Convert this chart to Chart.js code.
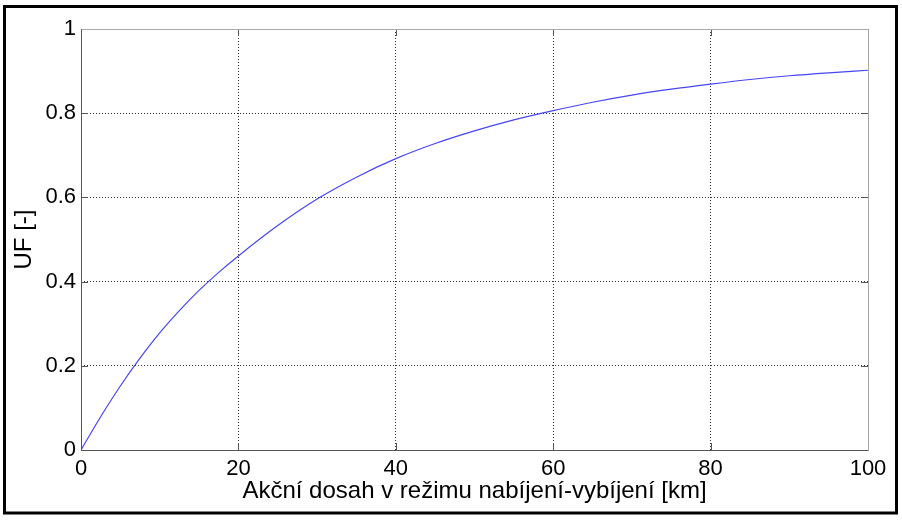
<!DOCTYPE html>
<html>
<head>
<meta charset="utf-8">
<script src="https://cdn.jsdelivr.net/npm/chart.js@4"></script>
<style>
  html, body { margin: 0; padding: 0; background: #fff; }
  #wrap { width: 902px; height: 520px; }
</style>
</head>
<body>
<div id="wrap"><canvas id="ufChart" width="902" height="520"></canvas></div>
<script>
// range in km and utility factor
const rangeKm = [0, 2.5, 5, 7.5, 10, 12.5, 15, 17.5, 20, 25, 30, 35, 40, 45, 50, 55, 60, 65, 70, 75, 80, 85, 90, 95, 100];
const ufValues = [0, 0.079, 0.152, 0.218, 0.278, 0.331, 0.379, 0.422, 0.461, 0.533, 0.596, 0.648, 0.692, 0.728, 0.758, 0.784, 0.806, 0.826, 0.843, 0.857, 0.869, 0.880, 0.889, 0.896, 0.902];
const xTicks = [0, 20, 40, 60, 80, 100];
const yTicks = [0, 0.2, 0.4, 0.6, 0.8, 1];
const xTitle = 'Akční dosah v režimu nabíjení-vybíjení [km]';
const yTitle = 'UF [-]';

const points = rangeKm.map((x, i) => ({ x: x, y: ufValues[i] }));

// matlab-ish axes box, inward ticks and outer frame
const boxPlugin = {
  id: 'box',
  beforeDraw(chart) {
    const c = chart.ctx;
    c.save();
    c.fillStyle = '#fff';
    c.fillRect(0, 0, chart.width, chart.height);
    c.restore();
  },
  afterDatasetsDraw(chart) {
    const c = chart.ctx;
    const a = chart.chartArea;
    const xs = chart.scales.x, ys = chart.scales.y;
    c.save();
    c.lineWidth = 1;
    c.strokeStyle = '#555';
    c.beginPath();
    yTicks.forEach(v => {
      const py = Math.round(ys.getPixelForValue(v)) + 0.5;
      c.moveTo(a.left, py); c.lineTo(a.left + 7, py);
      c.moveTo(a.right, py); c.lineTo(a.right - 7, py);
    });
    xTicks.forEach(v => {
      const px = Math.round(xs.getPixelForValue(v)) + 0.5;
      c.moveTo(px, a.bottom); c.lineTo(px, a.bottom - 7);
      c.moveTo(px, a.top); c.lineTo(px, a.top + 7);
    });
    c.stroke();
    c.strokeStyle = '#aaa';
    c.beginPath();
    c.moveTo(Math.round(a.left) + 0.5, Math.round(a.top) + 0.5);
    c.lineTo(Math.round(a.right) + 0.5, Math.round(a.top) + 0.5);
    c.lineTo(Math.round(a.right) + 0.5, Math.round(a.bottom) + 0.5);
    c.stroke();
    c.strokeStyle = '#555';
    c.beginPath();
    c.moveTo(Math.round(a.left) + 0.5, Math.round(a.top) + 0.5);
    c.lineTo(Math.round(a.left) + 0.5, Math.round(a.bottom) + 0.5);
    c.lineTo(Math.round(a.right) + 0.5, Math.round(a.bottom) + 0.5);
    c.stroke();
    // outer black frame
    c.lineWidth = 3;
    c.strokeStyle = '#000';
    c.strokeRect(4.5, 6.5, 892, 506.5);
    c.restore();
  }
};

const ctx = document.getElementById('ufChart').getContext('2d');
const ufChart = new Chart(ctx, {
  type: 'line',
  data: {
    datasets: [{
      label: 'UF',
      data: points,
      borderColor: 'rgb(70, 70, 245)',
      borderWidth: 1.2,
      pointRadius: 0,
      fill: false,
      cubicInterpolationMode: 'monotone',
    }],
  },
  options: {
    responsive: false,
    animation: false,
    devicePixelRatio: 1,
    layout: { padding: { left: 0, right: 34, top: 29, bottom: 0 } },
    plugins: {
      legend: { display: false },
      tooltip: { enabled: false },
    },
    scales: {
      x: {
        type: 'linear',
        min: 0,
        max: 100,
        afterBuildTicks: (scale) => { scale.ticks = xTicks.map(v => ({ value: v })); },
        afterFit: (scale) => { scale.height = 70; },
        ticks: {
          color: '#000',
          padding: 6,
          maxRotation: 0,
          font: { family: 'Liberation Sans', size: 22 },
          callback: (v) => String(v),
        },
        grid: { color: '#333', drawTicks: false, lineWidth: 1 },
        border: { display: false, dash: [1, 2] },
        title: {
          display: true,
          text: xTitle,
          color: '#000',
          font: { family: 'Liberation Sans', size: 24 },
          padding: { top: 0, bottom: 14 },
        },
      },
      y: {
        type: 'linear',
        min: 0,
        max: 1,
        afterBuildTicks: (scale) => { scale.ticks = yTicks.map(v => ({ value: v })); },
        afterFit: (scale) => { scale.width = 81; },
        ticks: {
          color: '#000',
          padding: 5,
          font: { family: 'Liberation Sans', size: 22 },
          callback: (v) => String(Math.round(v * 10) / 10),
        },
        grid: { color: '#333', drawTicks: false, lineWidth: 1 },
        border: { display: false, dash: [1, 2] },
        title: {
          display: true,
          text: yTitle,
          color: '#000',
          font: { family: 'Liberation Sans', size: 24 },
          padding: { top: 10, bottom: 0 },
        },
      },
    },
  },
  plugins: [boxPlugin],
});
</script>
</body>
</html>
